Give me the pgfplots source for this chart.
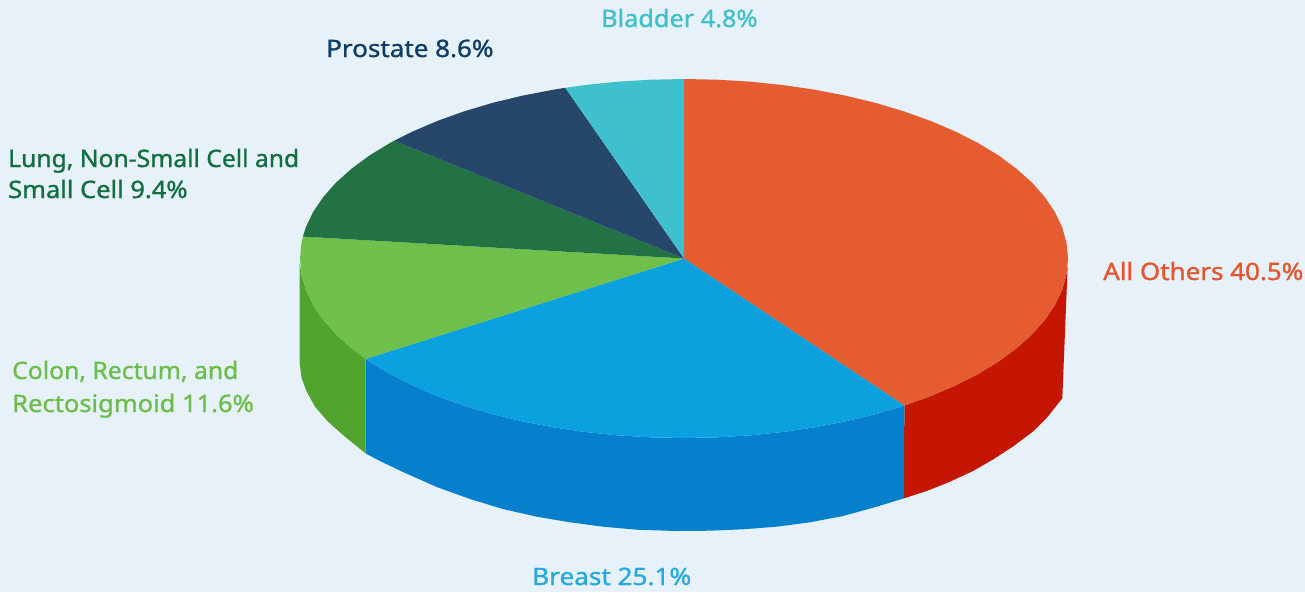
\documentclass[border=0pt]{standalone}
\usepackage{graphicx}
\usepackage{pgfplots}
\pgfplotsset{compat=1.18}
\usepackage{fontspec}
\setmainfont{Noto Sans}[FakeBold=1.0]
\definecolor{bg}{HTML}{E6F1FA}
\definecolor{oth}{HTML}{E55C31}
\definecolor{othS}{HTML}{C51603}
\definecolor{bre}{HTML}{0BA0DE}
\definecolor{breS}{HTML}{0680CD}
\definecolor{col}{HTML}{6FC04B}
\definecolor{colS}{HTML}{50A42D}
\definecolor{lun}{HTML}{237243}
\definecolor{pro}{HTML}{26466A}
\definecolor{bla}{HTML}{3EC1CC}
\definecolor{tOth}{HTML}{E8552C}
\definecolor{tBre}{HTML}{25A9E0}
\definecolor{tCol}{HTML}{6CBE4A}
\definecolor{tLun}{HTML}{116E3E}
\definecolor{tPro}{HTML}{0E3D66}
\tikzset{lbl/.style={anchor=base west, inner sep=0pt, font=\fontsize{24}{30}\selectfont}}
\begin{document}
\begin{tikzpicture}
\begin{axis}[
  scale only axis, width=1305pt, height=592pt,
  xmin=0, xmax=1305, ymin=0, ymax=592, y dir=reverse,
  hide axis, clip=true,
  every axis plot/.append style={no markers, line join=round},
]
\addplot[fill=bg, draw=none] coordinates {(0,0) (1305,0) (1305,592) (0,592)} --cycle;
% side walls
\addplot[fill=othS, draw=none] coordinates {
(904.3,405.5) (930.8,396) (955.5,385.4) (978.2,373.9) (998.6,361.5) (1016.5,348.25) (1032,334.4) (1044.8,319.9) (1054.9,305) (1062.2,289.7) (1066.5,274.2) (1067.7,265)
(1062.3,398.3) (1046.7,418) (1033,431.5) (1013,446.5) (993,459.5) (973,471) (950,481.7) (926.7,491) (904,498.3)} --cycle;
\addplot[fill=breS, draw=none] coordinates {
(365.7,358.9) (369.4,361.5) (389.8,373.9) (412.5,385.4) (437.2,396) (463.7,405.5) (492,414) (521.7,421.2) (552.7,427.2) (584.6,431.9) (617.3,435.3) (650.5,437.3) (684,438) (717.5,437.3) (750.7,435.3) (783.4,431.9) (815.3,427.2) (846.3,421.2) (876,414) (904.3,405.5)
(904,498.3) (876.7,506.7) (843,516) (810,522.3) (776.7,526.7) (743,529.3) (710,530.7) (676.7,531) (636.7,529.7) (603,526.7) (570,522.3) (536.7,516.7) (503,509) (470,499) (436.7,487) (403,472) (380,461) (365.7,453.5)} --cycle;
\addplot[fill=colS, draw=none] coordinates {
(299.6,263) (301.5,274.2) (305.8,289.7) (313.1,305) (323.2,319.9) (336,334.4) (351.5,348.25) (365.7,358.9)
(365.7,453.5) (345,436.7) (328,421.7) (315,406.7) (306.7,391.7) (301.7,378.3) (299.6,363)} --cycle;
% top sectors: All Others 40.5
\addplot[fill=oth, draw=none] coordinates {
(684,258.5) (684,79) (717.5,79.7) (750.7,81.7) (783.4,85.1) (815.3,89.8) (846.3,95.8) (876,103) (904.3,111.5) (930.8,121) (955.5,131.6) (978.2,143.1) (998.6,155.5) (1016.5,168.75) (1032,182.6) (1044.8,197.1) (1054.9,212) (1062.2,227.3) (1066.5,242.8) (1068,258.5) (1066.5,274.2) (1062.2,289.7) (1054.9,305) (1044.8,319.9) (1032,334.4) (1016.5,348.25) (998.6,361.5) (978.2,373.9) (955.5,385.4) (930.8,396) (904.3,405.5)} --cycle;
% Breast 25.1
\addplot[fill=bre, draw=none] coordinates {
(684,258.5) (904.3,405.5) (876,414) (846.3,421.2) (815.3,427.2) (783.4,431.9) (750.7,435.3) (717.5,437.3) (684,438) (650.5,437.3) (617.3,435.3) (584.6,431.9) (552.7,427.2) (521.7,421.2) (492,414) (463.7,405.5) (437.2,396) (412.5,385.4) (389.8,373.9) (369.4,361.5) (365.7,358.9)} --cycle;
% Colon, Rectum, and Rectosigmoid 11.6
\addplot[fill=col, draw=none] coordinates {
(684,258.5) (365.7,358.9) (351.5,348.25) (336,334.4) (323.2,319.9) (313.1,305) (305.8,289.7) (301.5,274.2) (300,258.5) (301.5,242.8) (302.9,236.6)} --cycle;
% Lung 9.4
\addplot[fill=lun, draw=none] coordinates {
(684,258.5) (302.9,236.6) (305.8,227.3) (313.1,212) (323.2,197.1) (336,182.6) (351.5,168.75) (369.4,155.5) (389.8,143.1) (394.2,140.7)} --cycle;
% Prostate 8.6
\addplot[fill=pro, draw=none] coordinates {
(684,258.5) (394.2,140.7) (412.5,131.6) (437.2,121) (463.7,111.5) (492,103) (521.7,95.8) (552.7,89.8) (565.3,87.8)} --cycle;
% Bladder 4.8
\addplot[fill=bla, draw=none] coordinates {
(684,258.5) (565.3,87.8) (584.6,85.1) (617.3,81.7) (650.5,79.7) (684,79)} --cycle;
\node[lbl, text=bla] at (axis cs:601,27) {\scalebox{1.054}[1]{Bladder 4.8\%}};
\node[lbl, text=tPro] at (axis cs:326,57) {\scalebox{1.084}[1]{Prostate 8.6\%}};
\node[lbl, text=tLun] at (axis cs:8,167) {\scalebox{1.028}[1]{Lung, Non-Small Cell and}};
\node[lbl, text=tLun] at (axis cs:8,198) {\scalebox{1.062}[1]{Small Cell 9.4\%}};
\node[lbl, text=tCol] at (axis cs:12,379) {\scalebox{1.03}[1]{Colon, Rectum, and}};
\node[lbl, text=tCol] at (axis cs:12,412) {\scalebox{1.063}[1]{Rectosigmoid 11.6\%}};
\node[lbl, text=tBre] at (axis cs:532,585) {\scalebox{1.089}[1]{Breast 25.1\%}};
\node[lbl, text=tOth] at (axis cs:1103,280) {\scalebox{1.082}[1]{All Others 40.5\%}};
\end{axis}
\end{tikzpicture}
\end{document}
